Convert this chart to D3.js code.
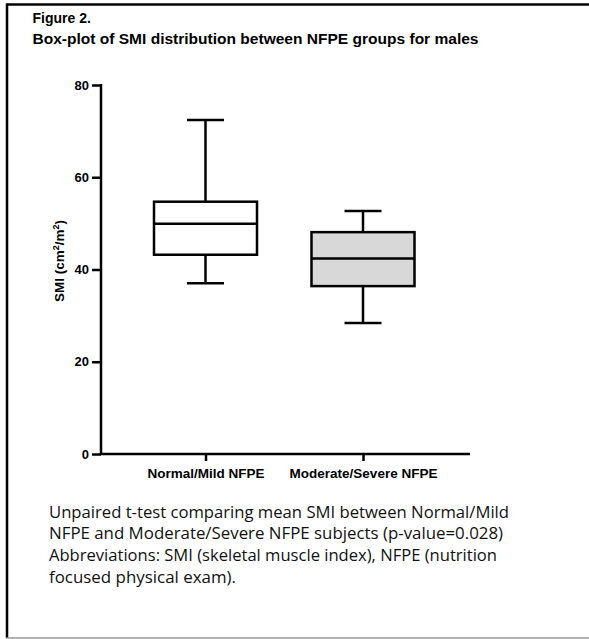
<!DOCTYPE html>
<html>
<head>
<meta charset="utf-8">
<style>
  body { margin: 0; background: #fff; }
  svg { display: block; }
</style>
</head>
<body>
<svg width="589" height="639"></svg>
<script src="https://d3js.org/d3.v7.min.js"></script>
<script>

	// Data.
	var groups = ["Normal/Mild NFPE", "Moderate/Severe NFPE"],
		whiskerLow = [37.0, 28.4],
		q1 = [43.2, 36.4],
		median = [49.9, 42.4],
		q3 = [54.7, 48.1],
		whiskerHigh = [72.4, 52.7],
		fills = ["#ffffff", "#d8d8d8"],
		yTicks = [0, 20, 40, 60, 80];

	var captionLines = [
		"Unpaired t-test comparing mean SMI between Normal/Mild",
		"NFPE and Moderate/Severe NFPE subjects (p-value=0.028)",
		"Abbreviations: SMI (skeletal muscle index), NFPE (nutrition",
		"focused physical exam)."
	];
	var captionWidths = [460, 454, 448, 187];

	var svg = d3.select("svg");

	// Frame: black top and left, grey bottom.
	svg.append("line").attr("x1", 6.5).attr("x2", 589).attr("y1", 4.5).attr("y2", 4.5)
		.attr("stroke", "#000").attr("stroke-width", 2.5);
	svg.append("line").attr("x1", 7).attr("x2", 7).attr("y1", 3.5).attr("y2", 638)
		.attr("stroke", "#000").attr("stroke-width", 2.5);
	svg.append("line").attr("x1", 6).attr("x2", 589).attr("y1", 638).attr("y2", 638)
		.attr("stroke", "#9a9a9a").attr("stroke-width", 1.5);

	// Titles.
	var title = svg.append("g")
		.style("font-family", "Arial, 'Liberation Sans', sans-serif")
		.style("font-weight", "bold")
		.style("font-size", "14px");
	title.append("text").attr("x", 32.5).attr("y", 23).text("Figure 2.");
	title.append("text").attr("x", 32.5).attr("y", 43.5)
		.attr("textLength", 446).attr("lengthAdjust", "spacingAndGlyphs")
		.text("Box-plot of SMI distribution between NFPE groups for males");

	// Scales.
	var y = d3.scaleLinear().domain([0, 80]).range([454, 85]);
	var x = d3.scalePoint().domain(groups).range([205.5, 363]);
	var boxW = 103, capW = 37;

	var chart = svg.append("g")
		.style("font-family", "Arial, 'Liberation Sans', sans-serif")
		.style("font-weight", "bold");

	// Y axis.
	var yAxis = chart.append("g")
		.attr("transform", "translate(101,0)")
		.call(d3.axisLeft(y).tickValues(yTicks).tickSize(9).tickPadding(3));
	yAxis.attr("font-size", null).attr("font-family", null);
	yAxis.select(".domain").attr("stroke-width", 2.5).attr("d", "M0,454V84");
	yAxis.selectAll(".tick line").attr("stroke-width", 2.5);
	yAxis.selectAll("text").style("font-size", "13px").attr("fill", "#000");

	// X axis.
	var xAxis = chart.append("g")
		.attr("transform", "translate(0,454)")
		.call(d3.axisBottom(x).tickSize(7).tickPadding(7));
	xAxis.attr("font-size", null).attr("font-family", null);
	xAxis.select(".domain").attr("stroke-width", 2.5).attr("d", "M100,0H470");
	xAxis.selectAll(".tick line").attr("stroke-width", 2.5);
	xAxis.selectAll("text").style("font-size", "13.5px").attr("fill", "#000");

	// Y axis title.
	var yt = chart.append("text")
		.attr("transform", "translate(64,261) rotate(-90)")
		.attr("text-anchor", "middle")
		.style("font-size", "13.5px");
	yt.append("tspan").text("SMI (cm");
	yt.append("tspan").attr("dy", -5.5).style("font-size", "9px").text("2");
	yt.append("tspan").attr("dy", 5.5).text("/m");
	yt.append("tspan").attr("dy", -5.5).style("font-size", "9px").text("2");
	yt.append("tspan").attr("dy", 5.5).text(")");

	// Boxes.
	var boxes = chart.selectAll(".box")
		.data(groups)
		.enter().append("g")
		.attr("class", "box")
		.attr("stroke", "#000")
		.attr("stroke-width", 2.5);

	boxes.append("line")
		.attr("x1", function(d) { return x(d); })
		.attr("x2", function(d) { return x(d); })
		.attr("y1", function(d, i) { return y(whiskerHigh[i]); })
		.attr("y2", function(d, i) { return y(whiskerLow[i]); });

	boxes.append("line")
		.attr("x1", function(d) { return x(d) - capW / 2; })
		.attr("x2", function(d) { return x(d) + capW / 2; })
		.attr("y1", function(d, i) { return y(whiskerHigh[i]); })
		.attr("y2", function(d, i) { return y(whiskerHigh[i]); });

	boxes.append("line")
		.attr("x1", function(d) { return x(d) - capW / 2; })
		.attr("x2", function(d) { return x(d) + capW / 2; })
		.attr("y1", function(d, i) { return y(whiskerLow[i]); })
		.attr("y2", function(d, i) { return y(whiskerLow[i]); });

	boxes.append("rect")
		.attr("x", function(d) { return x(d) - boxW / 2; })
		.attr("y", function(d, i) { return y(q3[i]); })
		.attr("width", boxW)
		.attr("height", function(d, i) { return y(q1[i]) - y(q3[i]); })
		.attr("fill", function(d, i) { return fills[i]; });

	boxes.append("line")
		.attr("x1", function(d) { return x(d) - boxW / 2; })
		.attr("x2", function(d) { return x(d) + boxW / 2; })
		.attr("y1", function(d, i) { return y(median[i]); })
		.attr("y2", function(d, i) { return y(median[i]); });

	// Caption.
	var cap = svg.append("g")
		.style("font-family", "'Open Sans', 'Noto Sans', sans-serif")
		.style("font-size", "16px")
		.attr("fill", "#111");
	cap.selectAll("text")
		.data(captionLines)
		.enter().append("text")
		.attr("x", 49)
		.attr("y", function(d, i) { return 517.5 + i * 21.8; })
		.attr("textLength", function(d, i) { return captionWidths[i]; })
		.attr("lengthAdjust", "spacingAndGlyphs")
		.text(function(d) { return d; });

</script>
</body>
</html>
